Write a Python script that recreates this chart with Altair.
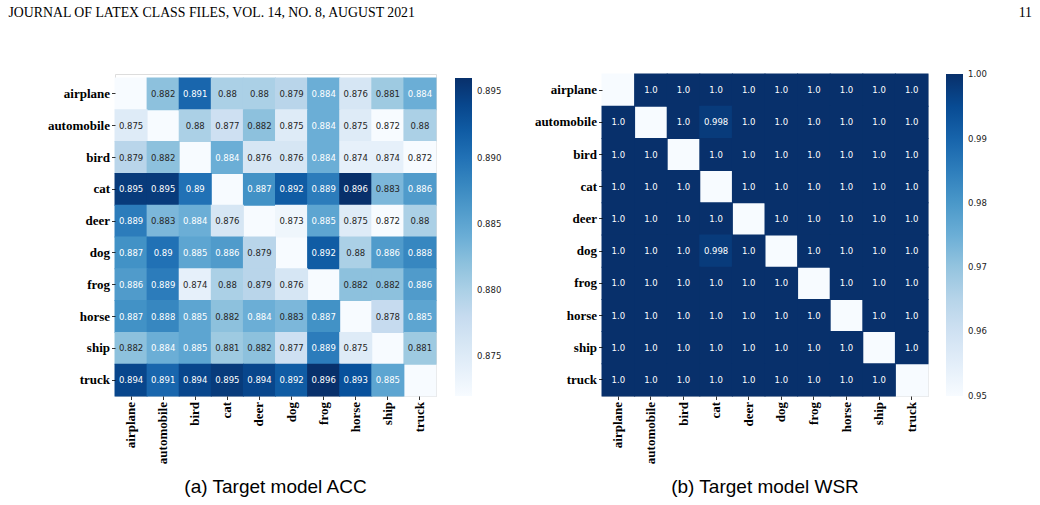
import altair as alt
import pandas as pd

classes = ["airplane", "automobile", "bird", "cat", "deer", "dog", "frog", "horse", "ship", "truck"]

N = None
acc_rows = [
    [N, 0.882, 0.891, 0.880, 0.880, 0.879, 0.884, 0.876, 0.881, 0.884],
    [0.875, N, 0.880, 0.877, 0.882, 0.875, 0.884, 0.875, 0.872, 0.880],
    [0.879, 0.882, N, 0.884, 0.876, 0.876, 0.884, 0.874, 0.874, 0.872],
    [0.895, 0.895, 0.890, N, 0.887, 0.892, 0.889, 0.896, 0.883, 0.886],
    [0.889, 0.883, 0.884, 0.876, N, 0.873, 0.885, 0.875, 0.872, 0.880],
    [0.887, 0.890, 0.885, 0.886, 0.879, N, 0.892, 0.880, 0.886, 0.888],
    [0.886, 0.889, 0.874, 0.880, 0.879, 0.876, N, 0.882, 0.882, 0.886],
    [0.887, 0.888, 0.885, 0.882, 0.884, 0.883, 0.887, N, 0.878, 0.885],
    [0.882, 0.884, 0.885, 0.881, 0.882, 0.877, 0.889, 0.875, N, 0.881],
    [0.894, 0.891, 0.894, 0.895, 0.894, 0.892, 0.896, 0.893, 0.885, N],
]

wsr_rows = [
    [N, 1.0, 1.0, 1.0, 1.0, 1.0, 1.0, 1.0, 1.0, 1.0],
    [1.0, N, 1.0, 0.998, 1.0, 1.0, 1.0, 1.0, 1.0, 1.0],
    [1.0, 1.0, N, 1.0, 1.0, 1.0, 1.0, 1.0, 1.0, 1.0],
    [1.0, 1.0, 1.0, N, 1.0, 1.0, 1.0, 1.0, 1.0, 1.0],
    [1.0, 1.0, 1.0, 1.0, N, 1.0, 1.0, 1.0, 1.0, 1.0],
    [1.0, 1.0, 1.0, 0.998, 1.0, N, 1.0, 1.0, 1.0, 1.0],
    [1.0, 1.0, 1.0, 1.0, 1.0, 1.0, N, 1.0, 1.0, 1.0],
    [1.0, 1.0, 1.0, 1.0, 1.0, 1.0, 1.0, N, 1.0, 1.0],
    [1.0, 1.0, 1.0, 1.0, 1.0, 1.0, 1.0, 1.0, N, 1.0],
    [1.0, 1.0, 1.0, 1.0, 1.0, 1.0, 1.0, 1.0, 1.0, N],
]

acc_ticks = [0.875, 0.880, 0.885, 0.890, 0.895]
wsr_ticks = [0.95, 0.96, 0.97, 0.98, 0.99, 1.00]

header_left = "JOURNAL OF LATEX CLASS FILES, VOL. 14, NO. 8, AUGUST 2021"
header_right = "11"

BLUES = ["#f7fbff", "#deebf7", "#c6dbef", "#9ecae1", "#6baed6",
         "#4292c6", "#2171b5", "#08519c", "#08306b"]

H = 322  # common plot height


def to_long(rows):
    recs = []
    for i, r in enumerate(classes):
        for j, c in enumerate(classes):
            recs.append({"row": r, "col": c, "v": rows[i][j]})
    return pd.DataFrame(recs)


def heat(rows, w, top, domain, ticks, fmt, thresh, label_expr, caption,
         htext, hx, hy, halign, lx):
    df = to_long(rows)
    xax = alt.Axis(title=None, labelAngle=270, labelAlign="right", labelBaseline="middle",
                   labelFont="Liberation Serif", labelFontWeight="bold", labelFontSize=13,
                   labelColor="black", tickSize=3.5, tickColor="black", tickWidth=0.8,
                   domain=False, grid=False, labelPadding=2)
    yax = alt.Axis(title=None, labelAlign="right", labelBaseline="middle",
                   labelFont="Liberation Serif", labelFontWeight="bold", labelFontSize=13,
                   labelColor="black", tickSize=3.5, tickColor="black", tickWidth=0.8,
                   domain=False, grid=False, labelPadding=2)
    base = alt.Chart(df).encode(
        x=alt.X("col:N", sort=classes, scale=alt.Scale(paddingInner=0, paddingOuter=0), axis=xax),
        y=alt.Y("row:N", sort=classes,
                scale=alt.Scale(paddingInner=0, paddingOuter=0, range=[top, H]), axis=yax),
    )
    cells = base.transform_filter("isValid(datum.v)").mark_rect(
        width={"band": 1.03}, height={"band": 1.03}
    ).encode(
        color=alt.Color("v:Q",
                        scale=alt.Scale(domain=domain, range=BLUES, interpolate="rgb", clamp=True),
                        legend=alt.Legend(title=None, orient="none", legendX=lx, legendY=top,
                                          direction="vertical", gradientLength=H - top,
                                          gradientThickness=17, gradientStrokeWidth=0,
                                          values=ticks, format=fmt, labelFont="DejaVu Sans",
                                          labelFontSize=8.5, labelColor="#222222",
                                          labelBaseline="middle",
                                          labelOffset=5, labelOverlap=False, padding=0)),
    )
    diag = base.transform_filter("!isValid(datum.v)").mark_rect(
        color="#f7fbff", width={"band": 1.03}, height={"band": 1.03})
    text = base.transform_filter("isValid(datum.v)").transform_calculate(
        lbl=label_expr
    ).mark_text(font="DejaVu Sans", fontSize=8.5).encode(
        text="lbl:N",
        color=alt.condition(f"datum.v >= {thresh}", alt.value("white"), alt.value("#262626")),
    )
    head = alt.Chart(pd.DataFrame({"t": [htext]})).mark_text(
        font="Liberation Serif", fontSize=13.8, align=halign, baseline="alphabetic", color="black"
    ).encode(text="t:N", x=alt.value(hx), y=alt.value(hy))
    return alt.layer(diag, cells, text, head).properties(
        width=w, height=H,
        title=alt.TitleParams(caption, orient="bottom", anchor="middle", frame="group",
                              font="Liberation Sans", fontSize=19, fontWeight="normal",
                              color="black", offset=14),
    )


a = heat(acc_rows, 321, 4, [0.872, 0.896], acc_ticks, ".3f", 0.8835,
         "format(datum.v, '.3~g')", "(a) Target model ACC",
         header_left, -106.5, -57.5, "left", 340)
b = heat(wsr_rows, 326, 0, [0.94995, 1.00005], wsr_ticks, ".2f", 0.96,
         "datum.v == 1 ? '1.0' : format(datum.v, '.3~g')", "(b) Target model WSR",
         header_right, 430, -57.5, "right", 344)

chart = alt.hconcat(a, b, spacing=30).resolve_scale(color="independent").properties(
    padding={"left": 8, "top": 5, "right": 0, "bottom": 0}
).configure_view(stroke=None).configure(background="white")

chart.save("out.html", embed_options={"renderer": "svg", "actions": False})
